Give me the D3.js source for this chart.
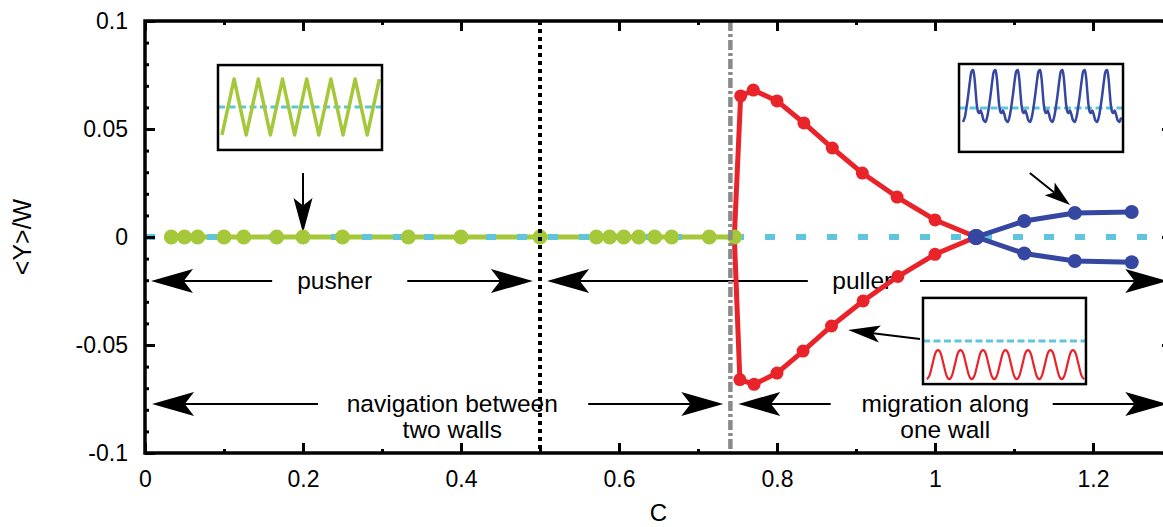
<!DOCTYPE html>
<html>
<head>
<meta charset="utf-8">
<script src="https://cdn.jsdelivr.net/npm/d3@7"></script>
<style>
  body { margin: 0; background: #fff; }
  svg { display: block; }
  text { font-family: "Liberation Sans", Arial, Helvetica, sans-serif; }
</style>
</head>
<body>
<svg class="chart" width="1163" height="527"></svg>
<script>
// <Y>/W against C : pusher / puller swimmer between two walls

// axes
var xTicks = [0, 0.2, 0.4, 0.6, 0.8, 1, 1.2];
var xTickLabels = ["0", "0.2", "0.4", "0.6", "0.8", "1", "1.2"];
var xMinor = [0.1, 0.3, 0.5, 0.7, 0.9, 1.1];
var yTicks = [-0.1, -0.05, 0, 0.05, 0.1];
var yTickLabels = ["-0.1", "-0.05", "0", "0.05", "0.1"];
var yMinor = [-0.09, -0.08, -0.07, -0.06, -0.04, -0.03, -0.02, -0.01,
              0.01, 0.02, 0.03, 0.04, 0.06, 0.07, 0.08, 0.09];

// navigation between two walls (green, all on the centre line)
var greenC = [0.0333, 0.05, 0.0667, 0.1, 0.125, 0.1667, 0.2, 0.25, 0.3333, 0.4,
              0.5, 0.5714, 0.5882, 0.6061, 0.625, 0.6452, 0.6667, 0.7143, 0.7463];
var greenY = [0, 0, 0, 0, 0, 0, 0, 0, 0, 0, 0, 0, 0, 0, 0, 0, 0, 0, 0];

// migration along one wall (red, upper and lower branch)
var redC     = [0.746, 0.754, 0.770, 0.800, 0.834, 0.870, 0.908, 0.952, 1.000, 1.052];
var redUpper = [0, 0.0653, 0.0680, 0.0630, 0.0528, 0.0412, 0.0296, 0.0185, 0.0079, 0];
var redLowC  = [0.746, 0.753, 0.771, 0.800, 0.833, 0.869, 0.909, 0.953, 1.000, 1.052];
var redLower = [0, -0.0660, -0.0682, -0.0630, -0.0528, -0.0412, -0.0296, -0.0183, -0.0080, 0];

// blue branch after the crossing
var blueC     = [1.052, 1.113, 1.177, 1.249];
var blueUpper = [0, 0.0074, 0.0111, 0.0116];
var blueLower = [0, -0.0076, -0.0111, -0.0117];

// vertical markers
var pusherPullerC = 0.5;
var transitionC = 0.741;

// inset traces
var pusherWave = [-1, 1, -1, 1, -1, 1, -1, 1, -1, 1, -1, 1, -1, 1];   // vertices every half period
var blueCycle = [[0, 1], [0.06, 0.82], [0.12, 0.42], [0.18, 0.04], [0.24, -0.12], [0.29, -0.13],
                 [0.34, -0.07], [0.40, -0.16], [0.48, -0.33], [0.55, -0.37], [0.63, -0.25],
                 [0.71, 0.02], [0.79, 0.36], [0.87, 0.74], [0.94, 0.97]];
var redCycle = [[0, -0.24], [0.125, -0.33], [0.25, -0.62], [0.375, -0.9],
                [0.5, -1], [0.625, -0.9], [0.75, -0.62], [0.875, -0.33]];

// annotations
var labels = [
  {text: ["pusher"], c: 0.24, y: -0.0204},
  {text: ["puller"], c: 0.908, y: -0.0204},
  {text: ["navigation between", "two walls"], c: 0.389, y: -0.0773},
  {text: ["migration along", "one wall"], c: 1.013, y: -0.0773}
];
var arrows = [
  {from: [0.161, -0.0204], to: [0.0076, -0.0204], len: 42, half: 12},
  {from: [0.332, -0.0204], to: [0.491, -0.0204], len: 42, half: 12},
  {from: [0.839, -0.0204], to: [0.509, -0.0204], len: 42, half: 12},
  {from: [0.981, -0.0204], to: [1.294, -0.0204], len: 42, half: 12},
  {from: [0.219, -0.0773], to: [0.0089, -0.0773], len: 42, half: 12},
  {from: [0.561, -0.0773], to: [0.732, -0.0773], len: 42, half: 12},
  {from: [0.868, -0.0773], to: [0.751, -0.0773], len: 42, half: 12},
  {from: [1.149, -0.0773], to: [1.294, -0.0773], len: 42, half: 12},
  {from: [0.2, 0.0296], to: [0.2, 0.0019], len: 35, half: 9.5},
  {from: [1.120, 0.0296], to: [1.171, 0.0148], len: 26, half: 8},
  {from: [0.981, -0.0472], to: [0.890, -0.0431], len: 32, half: 8.5}
];

var green = "#a5c83b", red = "#e8232a", blue = "#3547a0", cyan = "#5ec5dc";

var svg = d3.select(".chart");
var x = d3.scaleLinear().domain([0, 1.3]).range([145, 1172]);
var y = d3.scaleLinear().domain([-0.1, 0.1]).range([453, 21]);
var line = d3.line().x(d => x(d[0])).y(d => y(d[1]));
var pts = (cs, ys) => cs.map((c, i) => [c, ys[i]]);

// ---- annotations (under the data) ----
var ann = svg.append("g");
labels.forEach(function (l) {
  var t = ann.append("text")
    .attr("x", x(l.c)).attr("y", y(l.y) + 8)
    .attr("text-anchor", "middle").attr("font-size", 24.5);
  l.text.forEach(function (s, i) {
    t.append("tspan").attr("x", x(l.c)).attr("dy", i == 0 ? 0 : 26.5).text(s);
  });
});

arrows.forEach(function (a) {
  var x1 = x(a.from[0]), y1 = y(a.from[1]), x2 = x(a.to[0]), y2 = y(a.to[1]);
  var dx = x2 - x1, dy = y2 - y1, n = Math.hypot(dx, dy);
  var ux = dx / n, uy = dy / n, px = -uy, py = ux;
  var bx = x2 - ux * a.len, by = y2 - uy * a.len;
  var nx = x2 - ux * a.len * 0.78, ny = y2 - uy * a.len * 0.78;
  ann.append("line").attr("x1", x1).attr("y1", y1).attr("x2", nx).attr("y2", ny)
    .attr("stroke", "#000").attr("stroke-width", 2);
  ann.append("path")
    .attr("d", "M" + x2 + "," + y2 + "L" + (bx + px * a.half) + "," + (by + py * a.half) +
               "L" + nx + "," + ny + "L" + (bx - px * a.half) + "," + (by - py * a.half) + "Z")
    .attr("fill", "#000");
});

// ---- insets ----
function inset(box, tDom, vDom, trace, color, width, curve) {
  var g = svg.append("g");
  var tx = d3.scaleLinear().domain(tDom).range([x(box[0]), x(box[1])]);
  var ty = d3.scaleLinear().domain(vDom).range([y(box[3]), y(box[2])]);
  g.append("rect").attr("x", x(box[0])).attr("y", y(box[2]))
    .attr("width", x(box[1]) - x(box[0])).attr("height", y(box[3]) - y(box[2]))
    .attr("fill", "#fff");
  g.append("line").attr("x1", tx(tDom[0])).attr("x2", tx(tDom[1]))
    .attr("y1", ty(0)).attr("y2", ty(0))
    .attr("stroke", cyan).attr("stroke-width", 3).attr("stroke-dasharray", "7,3.5");
  g.append("path").datum(trace)
    .attr("d", d3.line().curve(curve).x(d => tx(d[0])).y(d => ty(d[1])))
    .attr("fill", "none").attr("stroke", color).attr("stroke-width", width)
    .attr("stroke-linejoin", "round");
  g.append("rect").attr("x", x(box[0])).attr("y", y(box[2]))
    .attr("width", x(box[1]) - x(box[0])).attr("height", y(box[3]) - y(box[2]))
    .attr("fill", "none").attr("stroke", "#000").attr("stroke-width", 2.5);
}

function tile(cycle, from, to) {
  var out = [];
  for (var k = Math.floor(from) - 1; k <= Math.ceil(to) + 1; k++) {
    cycle.forEach(function (p) {
      var t = k + p[0];
      if (t >= from - 1e-9 && t <= to + 1e-9) out.push([t, p[1]]);
    });
  }
  return out;
}

inset([0.0924, 0.300, 0.0796, 0.0403], [-0.165, 6.61], [-1.536, 1.5],
      pusherWave.map((v, i) => [i * 0.5, v]), green, 3.5, d3.curveLinear);
inset([1.0304, 1.238, 0.0801, 0.0394], [-0.627, 6.717], [-1.158, 1.158],
      tile(blueCycle, -0.49, 6.63), blue, 2.5, d3.curveCatmullRom);
inset([0.9848, 1.1911, -0.0282, -0.0681], [-0.667, 6.578], [-1.13, 1.13],
      tile(redCycle, -0.5, 6.5), red, 2.2, d3.curveMonotoneX);

// ---- data ----
var data = svg.append("g");
data.append("path").datum(pts(greenC, greenY)).attr("d", line)
  .attr("fill", "none").attr("stroke", green).attr("stroke-width", 5);
data.append("line").attr("x1", x(0)).attr("x2", x(1.3)).attr("y1", y(0)).attr("y2", y(0))
  .attr("stroke", cyan).attr("stroke-width", 6).attr("stroke-dasharray", "10,21");

[pts(redC, redUpper), pts(redLowC, redLower)].forEach(function (s) {
  data.append("path").datum(s).attr("d", line)
    .attr("fill", "none").attr("stroke", red).attr("stroke-width", 5).attr("stroke-linejoin", "round");
  data.selectAll(null).data(s.slice(1)).enter().append("circle")
    .attr("cx", d => x(d[0])).attr("cy", d => y(d[1])).attr("r", 6.5).attr("fill", red);
});
[pts(blueC, blueUpper), pts(blueC, blueLower)].forEach(function (s) {
  data.append("path").datum(s).attr("d", line)
    .attr("fill", "none").attr("stroke", blue).attr("stroke-width", 5).attr("stroke-linejoin", "round");
  data.selectAll(null).data(s).enter().append("circle")
    .attr("cx", d => x(d[0])).attr("cy", d => y(d[1])).attr("r", (d, i) => i == 0 ? 8 : 7).attr("fill", blue);
});
data.selectAll(null).data(pts(greenC, greenY)).enter().append("circle")
  .attr("cx", d => x(d[0])).attr("cy", d => y(d[1])).attr("r", 7.5).attr("fill", green);

// vertical lines on top
svg.append("line").attr("x1", x(pusherPullerC)).attr("x2", x(pusherPullerC))
  .attr("y1", y(0.1)).attr("y2", y(-0.1))
  .attr("stroke", "#000").attr("stroke-width", 4).attr("stroke-dasharray", "4,4");
svg.append("line").attr("x1", x(transitionC)).attr("x2", x(transitionC))
  .attr("y1", y(0.1)).attr("y2", y(-0.1))
  .attr("stroke", "#8a8a8a").attr("stroke-width", 4.5).attr("stroke-dasharray", "10,3,3,3");

// ---- axes and frame ----
function styleAxis(g) {
  g.select(".domain").remove();
  g.selectAll(".tick line").attr("stroke", "#000").attr("stroke-width", 3);
  g.attr("font-size", 23);
  g.selectAll(".tick text").attr("fill", "#000");
}
var fmt = (labs, vals) => (d => labs[vals.indexOf(d)]);

svg.append("g").attr("transform", "translate(0," + y(-0.1) + ")")
  .call(d3.axisBottom(x).tickValues(xTicks).tickFormat(fmt(xTickLabels, xTicks))
        .tickSize(-10).tickSizeOuter(0).tickPadding(18)).call(styleAxis);
svg.append("g").attr("transform", "translate(0," + y(-0.1) + ")")
  .call(d3.axisBottom(x).tickValues(xMinor).tickFormat("").tickSize(-4).tickSizeOuter(0)).call(styleAxis);
svg.append("g").attr("transform", "translate(0," + y(0.1) + ")")
  .call(d3.axisTop(x).tickValues(xTicks).tickFormat("").tickSize(-10).tickSizeOuter(0)).call(styleAxis);
svg.append("g").attr("transform", "translate(0," + y(0.1) + ")")
  .call(d3.axisTop(x).tickValues(xMinor).tickFormat("").tickSize(-4).tickSizeOuter(0)).call(styleAxis);

svg.append("g").attr("transform", "translate(" + x(0) + ",0)")
  .call(d3.axisLeft(y).tickValues(yTicks).tickFormat(fmt(yTickLabels, yTicks))
        .tickSize(-10).tickSizeOuter(0).tickPadding(17)).call(styleAxis);
svg.append("g").attr("transform", "translate(" + x(0) + ",0)")
  .call(d3.axisLeft(y).tickValues(yMinor).tickFormat("").tickSize(-4).tickSizeOuter(0)).call(styleAxis);
svg.append("g").attr("transform", "translate(" + x(1.3) + ",0)")
  .call(d3.axisRight(y).tickValues(yTicks).tickFormat("").tickSize(-10).tickSizeOuter(0)).call(styleAxis);
svg.append("g").attr("transform", "translate(" + x(1.3) + ",0)")
  .call(d3.axisRight(y).tickValues(yMinor).tickFormat("").tickSize(-4).tickSizeOuter(0)).call(styleAxis);

svg.append("rect").attr("x", x(0)).attr("y", y(0.1))
  .attr("width", x(1.3) - x(0)).attr("height", y(-0.1) - y(0.1))
  .attr("fill", "none").attr("stroke", "#000").attr("stroke-width", 3.5);

// axis titles
svg.append("text").attr("transform", "translate(22," + y(0) + ") rotate(-90)")
  .attr("text-anchor", "middle").attr("dominant-baseline", "central")
  .attr("font-size", 25).text("<Y>/W");
svg.append("text").attr("x", (x(0) + x(1.3)) / 2).attr("y", 521)
  .attr("text-anchor", "middle").attr("font-size", 24).text("C");
</script>
</body>
</html>
